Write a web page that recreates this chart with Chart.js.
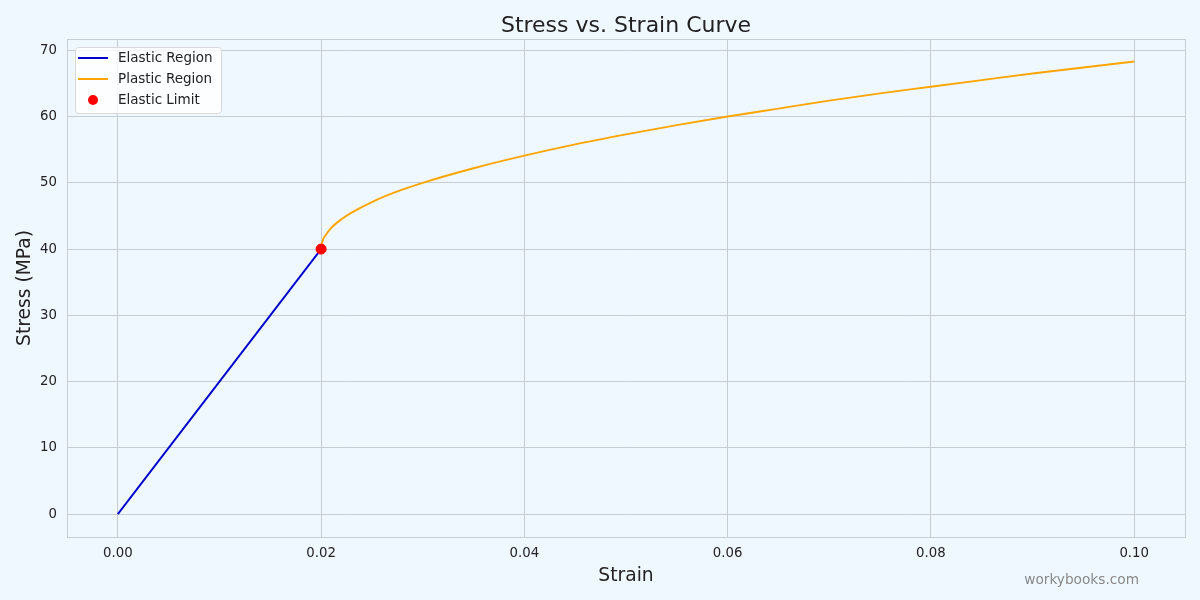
<!DOCTYPE html>
<html>
<head>
<meta charset="utf-8">
<title>Stress vs. Strain Curve</title>
<script src="https://cdn.jsdelivr.net/npm/chart.js@4.4.1/dist/chart.umd.min.js"></script>
<style>
  html, body { margin: 0; padding: 0; background: #f0f8ff; }
  #wrap { width: 1200px; height: 600px; position: relative; }
</style>
</head>
<body>
<div id="wrap"><canvas id="stressChart" width="1200" height="600"></canvas></div>
<script>
// values
const elasticStrain = [0, 0.02];
const elasticStress = [0, 40];

const plasticStrain = [0.02, 0.0201, 0.0205, 0.021, 0.022, 0.023, 0.025, 0.0275, 0.03, 0.035,
  0.04, 0.045, 0.05, 0.055, 0.06, 0.065, 0.07, 0.075, 0.08, 0.085, 0.09, 0.095, 0.1];
const plasticStress = [40, 41.0, 42.2, 43.2, 44.5, 45.5, 47.1, 48.7, 50.0, 52.2,
  54.1, 55.8, 57.3, 58.7, 60.0, 61.2, 62.4, 63.5, 64.5, 65.5, 66.5, 67.4, 68.3];

const limitStrain = [0.02];
const limitStress = [40];

const xTicks = [0, 0.02, 0.04, 0.06, 0.08, 0.1];
const yTicks = [0, 10, 20, 30, 40, 50, 60, 70];

const toPoints = (xs, ys) => xs.map((x, i) => ({ x: x, y: ys[i] }));

const FONT = "'DejaVu Sans', sans-serif";
const GRID = '#c8ccd3';

const legendItems = [
  { label: 'Elastic Region', color: '#0000cd', type: 'line' },
  { label: 'Plastic Region', color: '#ffa500', type: 'line' },
  { label: 'Elastic Limit', color: '#ff0000', type: 'dot' },
];

// background, frame, title, legend and watermark
const decor = {
  id: 'decor',
  beforeDraw(chart) {
    const { ctx, width, height } = chart;
    ctx.save();
    ctx.fillStyle = '#f0f8ff';
    ctx.fillRect(0, 0, width, height);
    ctx.restore();
  },
  afterDatasetsDraw(chart) {
    const { ctx, chartArea: a } = chart;
    ctx.save();
    ctx.strokeStyle = GRID;
    ctx.lineWidth = 1;
    ctx.strokeRect(a.left + 0.5, a.top + 0.5, a.right - a.left, a.bottom - a.top);
    ctx.restore();
  },
  afterDraw(chart) {
    const { ctx, chartArea: a } = chart;
    ctx.save();

    // title
    ctx.fillStyle = '#222';
    ctx.font = '22px ' + FONT;
    ctx.textAlign = 'center';
    ctx.textBaseline = 'alphabetic';
    ctx.fillText('Stress vs. Strain Curve', (a.left + a.right) / 2, 31.5);

    // legend box
    const bx = a.left + 8, by = a.top + 8, bw = 146, bh = 66;
    ctx.beginPath();
    ctx.roundRect(bx + 0.5, by + 0.5, bw, bh, 3);
    ctx.fillStyle = 'rgba(255,255,255,0.8)';
    ctx.fill();
    ctx.strokeStyle = '#d8d8d8';
    ctx.stroke();

    ctx.font = '13.5px ' + FONT;
    ctx.textAlign = 'left';
    ctx.textBaseline = 'middle';
    legendItems.forEach((item, i) => {
      const y = by + 11 + i * 21;
      if (item.type === 'line') {
        ctx.strokeStyle = item.color;
        ctx.lineWidth = 2;
        ctx.beginPath();
        ctx.moveTo(bx + 3, y);
        ctx.lineTo(bx + 33, y);
        ctx.stroke();
      } else {
        ctx.fillStyle = item.color;
        ctx.beginPath();
        ctx.arc(bx + 18, y, 5, 0, Math.PI * 2);
        ctx.fill();
      }
      ctx.fillStyle = '#222';
      ctx.fillText(item.label, bx + 43, y);
    });

    // watermark
    ctx.fillStyle = '#888';
    ctx.font = '13.7px ' + FONT;
    ctx.textAlign = 'right';
    ctx.textBaseline = 'alphabetic';
    ctx.fillText('workybooks.com', 1139, 584);
    ctx.restore();
  },
};

new Chart(document.getElementById('stressChart'), {
  type: 'line',
  data: {
    datasets: [
      {
        label: 'Elastic Limit',
        type: 'scatter',
        data: toPoints(limitStrain, limitStress),
        backgroundColor: '#ff0000',
        borderColor: '#ff0000',
        pointRadius: 5,
        order: 0,
      },
      {
        label: 'Elastic Region',
        data: toPoints(elasticStrain, elasticStress),
        borderColor: '#0000cd',
        borderWidth: 1.9,
        pointRadius: 0,
        fill: false,
        order: 1,
      },
      {
        label: 'Plastic Region',
        data: toPoints(plasticStrain, plasticStress),
        borderColor: '#ffa500',
        borderWidth: 1.9,
        pointRadius: 0,
        cubicInterpolationMode: 'monotone',
        fill: false,
        order: 2,
      },
    ],
  },
  options: {
    responsive: false,
    animation: false,
    devicePixelRatio: 1,
    layout: { padding: { top: 39, right: 15, left: 0, bottom: 0 } },
    plugins: {
      legend: { display: false },
      title: { display: false },
      tooltip: { enabled: false },
    },
    scales: {
      x: {
        type: 'linear',
        min: -0.005,
        max: 0.105,
        afterBuildTicks: (axis) => { axis.ticks = xTicks.map((v) => ({ value: v })); },
        afterFit: (axis) => { axis.height = 63; },
        grid: { color: GRID, drawTicks: false },
        border: { display: true, color: GRID },
        ticks: {
          padding: 9,
          color: '#222',
          font: { family: FONT, size: 13.3 },
          callback: (v) => v.toFixed(2),
        },
        title: {
          display: true,
          text: 'Strain',
          color: '#222',
          font: { family: FONT, size: 18.7 },
          padding: { top: 0, bottom: 13 },
        },
      },
      y: {
        type: 'linear',
        min: -3.45,
        max: 71.7,
        afterBuildTicks: (axis) => { axis.ticks = yTicks.map((v) => ({ value: v })); },
        afterFit: (axis) => { axis.width = 67; },
        grid: { color: GRID, drawTicks: false },
        border: { display: true, color: GRID },
        ticks: {
          padding: 10,
          color: '#222',
          font: { family: FONT, size: 13.3 },
        },
        title: {
          display: true,
          text: 'Stress (MPa)',
          color: '#222',
          font: { family: FONT, size: 18.7 },
          padding: { top: 14, bottom: 0 },
        },
      },
    },
  },
  plugins: [decor],
});
</script>
</body>
</html>
